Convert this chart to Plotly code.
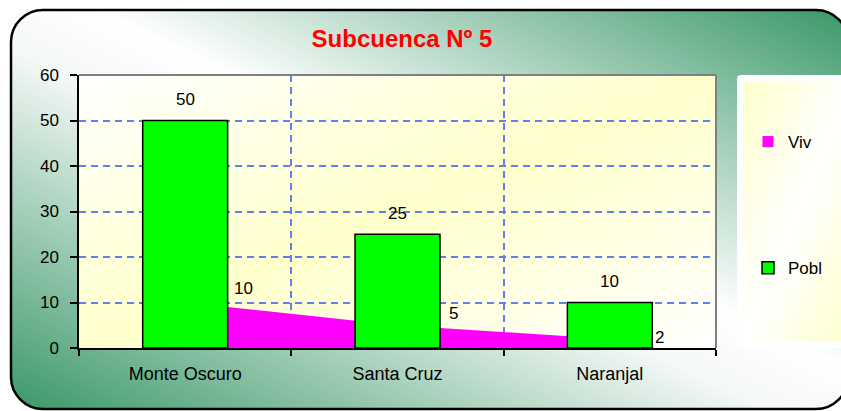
import base64
import plotly.graph_objects as go

# ---------------- data ----------------
categories = ["Monte Oscuro", "Santa Cruz", "Naranjal"]
pobl = [50, 25, 10]
viv = [10, 5, 2]
y_ticks = [0, 10, 20, 30, 40, 50, 60]
title_text = "Subcuenca Nº 5"

# ---------------- layout constants ----------------
W, H = 841, 411
PL, PR, PT, PB = 79, 716, 75, 348
FONT = "Liberation Sans, Arial, sans-serif"
GRID = "#6080f2"
FS = 17

svg = f'''<svg xmlns="http://www.w3.org/2000/svg" width="{W}" height="{H}" viewBox="0 0 {W} {H}">
<defs>
<linearGradient id="bg" x1="1" y1="0" x2="0" y2="1">
<stop offset="0" stop-color="#3a9868"/>
<stop offset="0.45" stop-color="#ffffff"/>
<stop offset="0.55" stop-color="#f4f8f6"/>
<stop offset="1" stop-color="#3a9868"/>
</linearGradient>
<linearGradient id="pa" x1="0" y1="0" x2="1" y2="1">
<stop offset="0" stop-color="#ffffff"/>
<stop offset="0.5" stop-color="#ffffcc"/>
<stop offset="1" stop-color="#ffffff"/>
</linearGradient>
<linearGradient id="lg" x1="0" y1="0" x2="1" y2="1">
<stop offset="0" stop-color="#ffffcc"/>
<stop offset="0.5" stop-color="#ffffff"/>
<stop offset="1" stop-color="#ffffcc"/>
</linearGradient>
</defs>
<rect x="11" y="10" width="837" height="399" rx="32" ry="32" fill="url(#bg)" stroke="#000" stroke-width="2.5"/>
<rect x="{PL}" y="{PT}" width="{PR - PL}" height="{PB - PT}" fill="url(#pa)"/>
<rect x="737" y="75" width="115" height="273" rx="4" fill="#ffffff"/>
<rect x="743" y="81" width="110" height="261" fill="url(#lg)"/>
</svg>'''
svg_uri = "data:image/svg+xml;base64," + base64.b64encode(svg.encode("utf-8")).decode("ascii")

fig = go.Figure()

# area (Viv) on the base subplot so bars (overlay subplot) sit on top
fig.add_trace(go.Scatter(
    x=categories, y=viv, mode="lines", fill="tozeroy",
    line=dict(width=0, color="#ff00ff"), fillcolor="#ff00ff",
    name="Viv", legendgroup="viv", showlegend=False, hoverinfo="skip",
))
# legend entry for Viv (square swatch)
fig.add_trace(go.Scatter(
    x=[None], y=[None], mode="markers",
    marker=dict(symbol="square", size=11, color="#ff00ff"),
    name="Viv", legendgroup="viv", showlegend=True,
))
fig.add_trace(go.Bar(
    x=categories, y=pobl, xaxis="x2", yaxis="y2", width=0.4,
    marker=dict(color="#00ff00", line=dict(color="black", width=1.5)),
    name="Pobl", legendgroup="pobl",
))

annotations = []
for c, v in zip(categories, pobl):
    annotations.append(dict(x=c, y=v, xref="x", yref="y", text=str(v), showarrow=False,
                            yshift=21, font=dict(family=FONT, size=FS, color="black")))
viv_label_shifts = [(58, 14), (56, 12), (50, 1)]
for (c, v), (dx, dy) in zip(zip(categories, viv), viv_label_shifts):
    annotations.append(dict(x=c, y=v, xref="x", yref="y", text=str(v), showarrow=False,
                            xshift=dx, yshift=dy, font=dict(family=FONT, size=FS, color="black")))

xdom = [PL / W, PR / W]
ydom = [1 - PB / H, 1 - PT / H]

fig.update_layout(
    template="none",
    width=W, height=H, autosize=False,
    margin=dict(l=0, r=0, t=0, b=0, pad=0),
    paper_bgcolor="white", plot_bgcolor="rgba(0,0,0,0)",
    font=dict(family=FONT, size=FS, color="black"),
    hovermode=False,
    title=dict(text=f"<b>{title_text}</b>", x=402 / W, y=1 - 39 / H, xanchor="center", yanchor="middle",
               xref="paper", yref="paper",
               font=dict(family=FONT, size=24, color="#ff0000")),
    xaxis=dict(
        type="category", categoryorder="array", categoryarray=categories,
        range=[-0.5, 2.5], domain=xdom, anchor="y",
        tickson="boundaries", ticks="outside", ticklen=6, tickwidth=1.5, tickcolor="black",
        showline=True, linecolor="black", linewidth=1.5,
        showgrid=True, gridcolor=GRID, griddash="7px,5px", gridwidth=2,
        zeroline=False, tickfont=dict(family=FONT, size=18, color="black"),
        ticklabelstandoff=9, automargin=False, fixedrange=True,
    ),
    yaxis=dict(
        range=[0, 60], tickvals=y_ticks, domain=ydom, anchor="x",
        ticks="outside", ticklen=7, tickwidth=1.5, tickcolor="black",
        showline=True, linecolor="black", linewidth=1.5,
        showgrid=True, gridcolor=GRID, griddash="7px,5px", gridwidth=2,
        zeroline=False, tickfont=dict(family=FONT, size=FS, color="black"),
        ticklabelstandoff=8, automargin=False, fixedrange=True,
    ),
    xaxis2=dict(
        type="category", categoryorder="array", categoryarray=categories,
        range=[-0.5, 2.5], overlaying="x", anchor="y2", visible=False, fixedrange=True,
        showgrid=False,
    ),
    yaxis2=dict(range=[0, 60], overlaying="y", anchor="x2", visible=False, fixedrange=True,
                showgrid=False),
    legend=dict(
        x=748 / W, y=1 - 124 / H, xanchor="left", yanchor="top",
        bgcolor="rgba(0,0,0,0)", borderwidth=0,
        font=dict(family=FONT, size=FS, color="black"),
        traceorder="grouped", tracegroupgap=101, itemclick=False, itemdoubleclick=False,
    ),
    showlegend=True,
    annotations=annotations,
    shapes=[
        dict(type="line", xref="x domain", yref="y domain", x0=0, x1=1, y0=1, y1=1,
             line=dict(color="#808080", width=2), layer="above"),
        dict(type="line", xref="x domain", yref="y domain", x0=1, x1=1, y0=0, y1=1,
             line=dict(color="#808080", width=2), layer="above"),
    ],
    images=[dict(source=svg_uri, xref="paper", yref="paper", x=0, y=1, sizex=1, sizey=1,
                 xanchor="left", yanchor="top", sizing="stretch", layer="below")],
)

fig.write_html(
    "out.html",
    config={"displayModeBar": False},
    post_script="document.body.style.margin='0';document.body.style.overflow='hidden';",
)
